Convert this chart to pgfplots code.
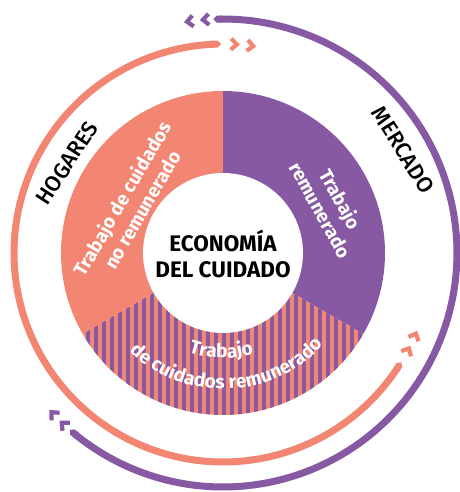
\documentclass[border=0pt]{standalone}
\usepackage{pgfplots}
\pgfplotsset{compat=1.18}
\usepackage{fontspec}
\setmainfont{Fira Sans}
\newfontfamily\firamed{Fira Sans Medium}
\usetikzlibrary{arrows.meta,patterns.meta,decorations.text}
\definecolor{csalmon}{RGB}{242,134,115}
\definecolor{cpurple}{RGB}{136,89,163}
\begin{document}
\begin{tikzpicture}
\begin{axis}[x=1pt,y=1pt,xmin=-223,xmax=236,ymin=-239,ymax=253,
  hide axis,clip=false,samples=120]
% three equal shares (120 deg each): unpaid care 90-210, paid care 210-330, paid work 330-450
\addplot[draw=none,fill=csalmon,domain=90:210] ({162*cos(x)},{162*sin(x)}) -- (0,0) -- cycle;
\addplot[draw=none,fill=cpurple,domain=-30:90] ({162*cos(x)},{162*sin(x)}) -- (0,0) -- cycle;
\addplot[draw=none,fill=csalmon,postaction={pattern={Lines[angle=90,distance=8pt,line width=3.2pt]},pattern color=cpurple},domain=210:330] ({162*cos(x)},{162*sin(x)}) -- (0,0) -- cycle;
\addplot[draw=none,fill=white,domain=0:360] ({80*cos(x)},{80*sin(x)}) -- cycle;
% outer rings
\addplot[draw=csalmon,line width=7pt,domain=90.5:328.5,{Triangle Cap[]}-{Triangle Cap[]}] ({209*cos(x)},{209*sin(x)});
\addplot[draw=cpurple,line width=7pt,domain=-130.9:92.4,{Triangle Cap[]}-{Triangle Cap[]}] ({234*cos(x)},{234*sin(x)});
% chevrons
\pgfplotsset{chev/.style={line width=4.2pt,line join=miter,miter limit=10}}
\addplot[draw=csalmon,chev] coordinates {(8.22,214.35) (13.93,208.54) (7.64,203.37)};
\addplot[draw=csalmon,chev] coordinates {(25.03,213.04) (30.25,206.81) (23.59,202.14)};
\addplot[draw=csalmon,chev] coordinates {(187.95,-103.33) (185.91,-95.45) (178.23,-98.17)};
\addplot[draw=csalmon,chev] coordinates {(195.51,-88.27) (192.87,-80.58) (185.43,-83.89)};
\addplot[draw=cpurple,chev] coordinates {(-14.54,239.11) (-20.12,233.18) (-13.74,228.13)};
\addplot[draw=cpurple,chev] coordinates {(-30.77,237.53) (-35.94,231.24) (-29.23,226.63)};
\addplot[draw=cpurple,chev] coordinates {(-160.52,-177.77) (-161.18,-169.65) (-153.04,-169.69)};
\addplot[draw=cpurple,chev] coordinates {(-171.37,-167.33) (-171.53,-159.20) (-163.41,-159.75)};
% texts
\node[align=center,font=\bfseries\fontsize{22.5}{26}\selectfont] at (0,-1) {ECONOMÍA\\DEL CUIDADO};
\node[rotate=57,font=\firamed\fontsize{22}{25}\selectfont] at (-156,90) {HOGARES};
\node[rotate=-58,font=\firamed\fontsize{22}{25}\selectfont] at (180,103) {MERCADO};
\node[rotate=60,align=center,text=white,font=\bfseries\fontsize{19}{23}\selectfont] at (-91,49) {Trabajo de cuidados\\no remunerado};
\node[rotate=-61,align=center,text=white,font=\bfseries\fontsize{19}{23}\selectfont] at (108,48.6) {Trabajo\\remunerado};
\path[decorate,decoration={text along path,text align=center,text color=white,text={|\bfseries\fontsize{19}{23}\selectfont|Trabajo}}] (-68.89,-79.25) arc[start angle=-131,end angle=-51,radius=105pt];
\path[decorate,decoration={text along path,text align=center,text color=white,text={|\bfseries\fontsize{19}{23}\selectfont|de cuidados remunerado}}] (-115.33,-72.07) arc[start angle=-148,end angle=-28,radius=136pt];
\end{axis}
\pgfresetboundingbox
\path[use as bounding box] (0,0) rectangle (459pt,492pt);
\end{tikzpicture}
\end{document}
